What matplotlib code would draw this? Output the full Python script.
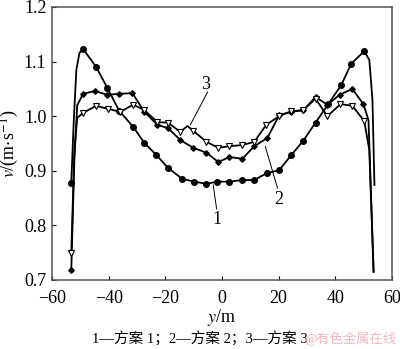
import matplotlib
matplotlib.use("Agg")
import matplotlib.pyplot as plt
import numpy as np

# scheme 1 (filled circles); marked flags False = curve point without marker
y1 = [-53.2, -52.3, -51.4, -50.3, -49.0, -44.4, -40.5, -36.3, -31.3, -27.4, -23.2, -19.0,
      -14.0, -9.8, -5.5, -1.7, 2.6, 7.2, 11.4, 16.0, 20.2, 24.5, 28.7, 33.0, 37.5,
      42.1, 45.6, 50.2, 52.0, 53.1, 53.8]
v1 = [0.878, 0.993, 1.085, 1.116, 1.123, 1.090, 1.052, 1.010, 0.980, 0.951, 0.929, 0.905,
      0.885, 0.880, 0.876, 0.880, 0.880, 0.883, 0.883, 0.896, 0.901, 0.929, 0.955, 0.988, 1.022,
      1.057, 1.096, 1.119, 1.103, 1.030, 0.874]
m1 = [1, 0, 0, 0, 1, 1, 1, 1, 1, 1, 1, 1, 1, 1, 1, 1, 1, 1, 1, 1, 1, 1, 1, 1, 1,
      1, 1, 1, 0, 0, 0]

# scheme 2 (filled diamonds)
y2 = [-53.2, -52.1, -51.1, -49.0, -44.7, -40.5, -36.3, -31.6, -27.4, -22.8, -19.0, -14.7,
      -10.1, -5.5, -1.3, 2.6, 7.2, 11.4, 16.0, 20.2, 24.5, 28.7, 33.0, 37.2, 41.5,
      46.0, 49.9, 51.7, 53.5]
v2 = [0.718, 0.920, 1.020, 1.041, 1.046, 1.039, 1.041, 1.042, 1.008, 0.984, 0.978, 0.956,
      0.942, 0.933, 0.916, 0.925, 0.922, 0.945, 0.960, 1.002, 1.008, 1.011, 1.035, 1.021, 1.039,
      1.050, 1.022, 0.993, 0.715]
m2 = [1, 0, 0, 1, 1, 1, 1, 1, 1, 1, 1, 1, 1, 1, 1, 1, 1, 1, 1, 1, 1, 1, 1, 1, 1,
      1, 1, 0, 0]

# scheme 3 (open triangles)
y3 = [-53.2, -52.1, -51.1, -49.0, -44.4, -40.1, -35.9, -31.3, -27.4, -22.8, -19.0, -14.7,
      -12.2, -10.1, -5.5, -1.3, 2.6, 7.2, 11.4, 15.6, 20.2, 24.5, 28.7, 33.0, 37.2,
      41.8, 46.0, 50.2, 52.0, 53.5]
v3 = [0.749, 0.938, 0.997, 1.006, 1.019, 1.013, 1.008, 1.021, 1.011, 0.989, 0.988, 0.971,
      0.982, 0.973, 0.953, 0.942, 0.945, 0.947, 0.953, 0.984, 1.000, 1.009, 1.011, 1.032, 1.000,
      1.022, 1.019, 0.991, 0.938, 0.715]
m3 = [1, 0, 0, 1, 1, 1, 1, 1, 1, 1, 1, 1, 0, 1, 1, 1, 1, 1, 1, 1, 1, 1, 1, 1, 1,
      1, 1, 1, 0, 0]

# curve labels: text position and leader line (from, to)
labels = ["1", "2", "3"]
label_pos = [(-1.7, 0.810), (20.0, 0.848), (-5.9, 1.058)]
leader = [((-3.1, 0.874), (-1.9, 0.830)),
          ((15.3, 0.944), (19.6, 0.868)),
          ((-5.1, 1.044), (-11.2, 0.984))]

xticks = [-60, -40, -20, 0, 20, 40, 60]
yticks = [0.7, 0.8, 0.9, 1.0, 1.1, 1.2]

plt.rcParams["font.family"] = ["Liberation Serif", "Noto Sans CJK SC"]
plt.rcParams["mathtext.fontset"] = "stix"

fig = plt.figure(figsize=(4.0, 3.49), dpi=100)
ax = fig.add_axes([0.13, 0.198, 0.85, 0.782])

def idx(m):
    return [i for i, f in enumerate(m) if f]

ax.plot(y1, v1, color="black", lw=1.3, marker="o", ms=4.0, mfc="black", mec="black",
        markevery=idx(m1), zorder=3)
ax.plot(y2, v2, color="black", lw=1.3, marker="D", ms=2.8, mfc="black", mec="black",
        markevery=idx(m2), zorder=3)
ax.plot(y3, v3, color="black", lw=1.3, marker="v", ms=4.0, mfc="white", mec="black",
        mew=0.8, markevery=idx(m3), zorder=4)

for lab, (tx, tv), (p0, p1) in zip(labels, label_pos, leader):
    ax.plot([p0[0], p1[0]], [p0[1], p1[1]], color="black", lw=0.7, zorder=2)
    ax.text(tx, tv, lab, fontsize=13, ha="center", va="center")

ax.set_xlim(-60, 60)
ax.set_ylim(0.7, 1.2)
ax.set_xticks(xticks)
ax.set_yticks(yticks)
ax.set_xticklabels([f"{t}".replace("-", "\u2212") for t in xticks])
ax.set_yticklabels([f"{t:.1f}" for t in yticks])
ax.tick_params(direction="in", length=3, width=0.8, labelsize=13,
               top=False, right=False)
ax.tick_params(axis="x", pad=7)
ax.tick_params(axis="y", pad=4)
for s in ax.spines.values():
    s.set_color("#555555")
    s.set_linewidth(1.1)

ax.set_ylabel(r"$v$/(m$\cdot$s$^{-1}$)", fontsize=13, labelpad=2)
ax.set_xlabel(r"$y$/m", fontsize=13, labelpad=0)

fig.text(0.5, 0.03, "1—方案 1；2—方案 2；3—方案 3", ha="center", va="center", fontsize=10.5)
fig.text(0.876, 0.03, "@有色金属在线", ha="center", va="center", fontsize=9.5,
         color="#f2b8c0", family=["Noto Sans CJK SC"])

fig.savefig("out.png", dpi=100)
